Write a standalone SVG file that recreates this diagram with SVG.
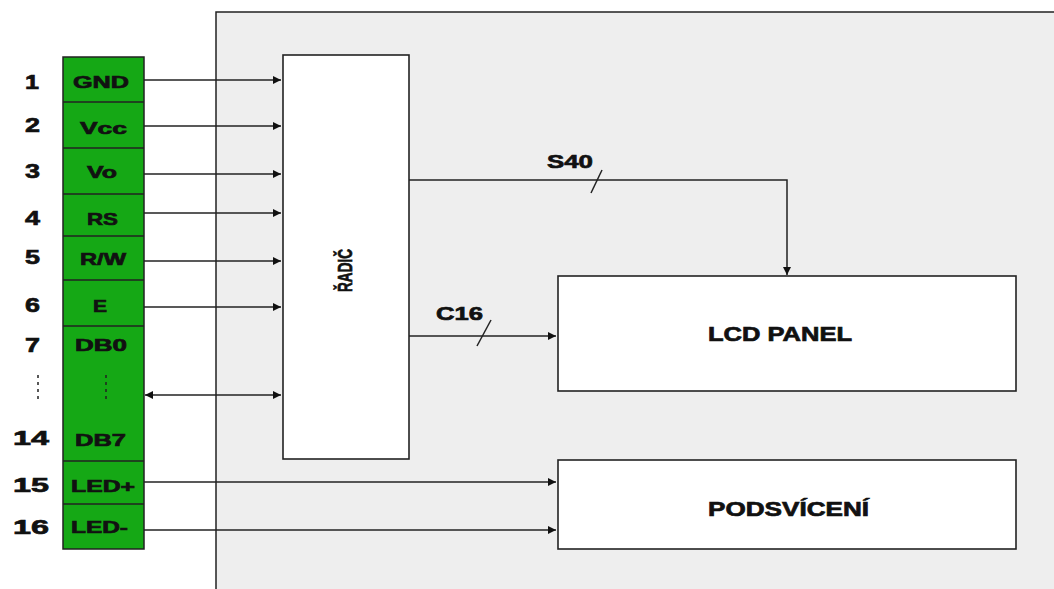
<svg xmlns="http://www.w3.org/2000/svg" width="1054" height="589" viewBox="0 0 1054 589">
<style>
.box{fill:#ffffff;stroke:#222;stroke-width:1.6}
.ln{fill:none;stroke:#222;stroke-width:1.5}
.t{font-family:"Liberation Sans",Arial,sans-serif;font-weight:bold;fill:#111;stroke:#111;stroke-width:0.7}
.pin{font-size:17px}
.num{font-size:21px}
.lbl{font-size:20px}
.sm{font-size:19px}
.dash{stroke:#222;stroke-width:1.5;stroke-dasharray:3 4}
</style>
<defs>
<marker id="ah" viewBox="0 0 10 10" refX="10" refY="5" markerWidth="8" markerHeight="8" markerUnits="userSpaceOnUse" orient="auto-start-reverse">
<path d="M0,0 L10,5 L0,10 z" fill="#111"/>
</marker>
</defs>
<rect width="1054" height="589" fill="#ffffff"/>
<g id="panel">
<rect x="216" y="12" width="860" height="600" fill="#eeeeee" stroke="#222" stroke-width="1.5"/>
</g>
<g id="connector">
<rect x="63" y="57" width="81" height="492" fill="#15a815" stroke="#222" stroke-width="1.5"/>
<path class="ln" d="M63 102H144M63 148H144M63 194H144M63 236H144M63 280H144M63 326H144M63 461H144M63 504H144"/>
<text class="t pin" x="73" y="88" textLength="56" lengthAdjust="spacingAndGlyphs">GND</text>
<text class="t pin" x="80" y="134" textLength="47" lengthAdjust="spacingAndGlyphs">Vcc</text>
<text class="t pin" x="87" y="178" textLength="30" lengthAdjust="spacingAndGlyphs">Vo</text>
<text class="t pin" x="87" y="225" textLength="31" lengthAdjust="spacingAndGlyphs">RS</text>
<text class="t pin" x="80" y="265" textLength="46" lengthAdjust="spacingAndGlyphs">R/W</text>
<text class="t pin" x="93" y="312" textLength="14" lengthAdjust="spacingAndGlyphs">E</text>
<text class="t pin" x="75" y="351" textLength="52" lengthAdjust="spacingAndGlyphs">DB0</text>
<text class="t pin" x="75" y="446" textLength="51" lengthAdjust="spacingAndGlyphs">DB7</text>
<text class="t pin" x="71" y="492" textLength="64" lengthAdjust="spacingAndGlyphs">LED+</text>
<text class="t pin" x="71" y="533" textLength="57" lengthAdjust="spacingAndGlyphs">LED-</text>
<line class="dash" x1="106" y1="375" x2="106" y2="402"/>
</g>
<g id="numbers">
<text class="t num" x="25" y="89" textLength="14" lengthAdjust="spacingAndGlyphs">1</text>
<text class="t num" x="25" y="132" textLength="15" lengthAdjust="spacingAndGlyphs">2</text>
<text class="t num" x="25" y="178" textLength="15" lengthAdjust="spacingAndGlyphs">3</text>
<text class="t num" x="25" y="225" textLength="15" lengthAdjust="spacingAndGlyphs">4</text>
<text class="t num" x="25" y="264" textLength="15" lengthAdjust="spacingAndGlyphs">5</text>
<text class="t num" x="25" y="312" textLength="15" lengthAdjust="spacingAndGlyphs">6</text>
<text class="t num" x="25" y="352" textLength="15" lengthAdjust="spacingAndGlyphs">7</text>
<text class="t num" x="13" y="445" textLength="36" lengthAdjust="spacingAndGlyphs">14</text>
<text class="t num" x="13" y="492" textLength="36" lengthAdjust="spacingAndGlyphs">15</text>
<text class="t num" x="13" y="534" textLength="36" lengthAdjust="spacingAndGlyphs">16</text>
<line class="dash" x1="38" y1="375" x2="38" y2="400"/>
</g>
<g id="radic">
<rect class="box" x="283" y="55" width="126" height="404"/>
<g transform="translate(352,292) rotate(-90) scale(0.65,1)">
<text class="t" font-size="21" stroke-width="1" x="0" y="0">ŘADIČ</text>
</g>
</g>
<g id="lcd">
<rect class="box" x="558" y="276" width="458" height="115"/>
<text class="t lbl" x="708" y="341" textLength="144" lengthAdjust="spacingAndGlyphs">LCD PANEL</text>
</g>
<g id="podsviceni">
<rect class="box" x="558" y="460" width="458" height="89"/>
<text class="t lbl" x="708" y="516" textLength="161" lengthAdjust="spacingAndGlyphs">PODSVÍCENÍ</text>
</g>
<g id="connectors">
<path class="ln" marker-end="url(#ah)" d="M144 80H281"/>
<path class="ln" marker-end="url(#ah)" d="M144 126H281"/>
<path class="ln" marker-end="url(#ah)" d="M144 174H281"/>
<path class="ln" marker-end="url(#ah)" d="M144 213H281"/>
<path class="ln" marker-end="url(#ah)" d="M144 261H281"/>
<path class="ln" marker-end="url(#ah)" d="M144 307H281"/>
<path class="ln" marker-start="url(#ah)" marker-end="url(#ah)" d="M145 395H281"/>
<path class="ln" marker-end="url(#ah)" d="M144 482H556"/>
<path class="ln" marker-end="url(#ah)" d="M144 530H556"/>
<path class="ln" marker-end="url(#ah)" d="M409 180H787V275"/>
<path class="ln" marker-end="url(#ah)" d="M409 336H556"/>
<line class="ln" x1="602" y1="170" x2="591" y2="193" stroke-width="1.2"/>
<line class="ln" x1="491" y1="320" x2="477" y2="346" stroke-width="1.2"/>
<text class="t sm" x="547" y="168" textLength="46" lengthAdjust="spacingAndGlyphs">S40</text>
<text class="t sm" x="436" y="320" textLength="47" lengthAdjust="spacingAndGlyphs">C16</text>
</g>
</svg>
